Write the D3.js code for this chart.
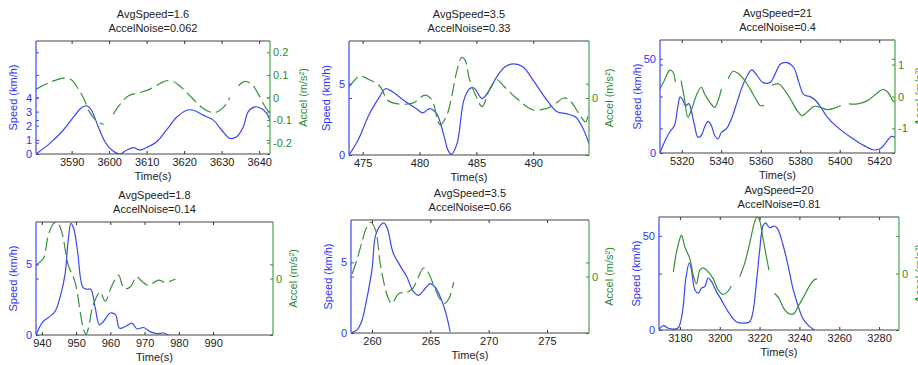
<!DOCTYPE html>
<html>
<head>
<meta charset="utf-8">
<script src="https://cdn.jsdelivr.net/npm/d3@7"></script>
<style>
  body { margin: 0; background: #fff; }
  svg { display: block; font-family: "Liberation Sans", Arial, sans-serif; }
</style>
</head>
<body>
<svg id="chart" width="918" height="365"></svg>
<script>
// titles
const avgSpeed = ["1.6", "3.5", "21", "1.8", "3.5", "20"];
const accelNoise = ["0.062", "0.33", "0.4", "0.14", "0.66", "0.81"];

// axes
const timeRange = [[3580.5, 3642.9], [473.8, 494.9], [5309, 5428], [938.3, 1007.5], [258.2, 278.6], [3169.5, 3290]];
const timeTicks = [
  [3590, 3600, 3610, 3620, 3630, 3640],
  [475, 480, 485, 490],
  [5320, 5340, 5360, 5380, 5400, 5420],
  [940, 950, 960, 970, 980, 990],
  [260, 265, 270, 275],
  [3180, 3200, 3220, 3240, 3260, 3280]
];
const speedMax = [8, 8, 60, 8, 8, 60];
const speedTicks = [[0, 1, 2, 3, 4], [0, 5], [0, 50], [0, 5], [0, 5], [0, 50]];
const accelMax = [0.25, 1, 1.77, 1, 1, 1];
const accelTicks = [[-0.2, -0.1, 0, 0.1, 0.2], [0], [-1, 0, 1], [0], [0], [0]];

// [time, speed km/h]
const speed1 = [[3580.5,0],[3584.2,0.75],[3587.8,1.7],[3590.9,2.75],[3592.7,3.3],[3594.2,3.4],[3595.3,3.1],[3597.1,1.93],[3598.9,0.87],[3600.7,0.28],[3602.9,0],[3604.7,0.28],[3606.5,0.45],[3608.2,0.28],[3610.5,0.52],[3612.7,0.87],[3615.3,1.7],[3618,2.6],[3620.7,3.1],[3622.5,3.1],[3625.1,2.75],[3627.8,2.4],[3630,1.7],[3632.2,1.1],[3634,1.22],[3635.8,1.93],[3637.1,3.0],[3638.9,3.34],[3640.7,3.2],[3642,2.87],[3642.9,2.4]];
const speed2 = [[473.8,0],[474.6,1.05],[475.6,2.9],[476.5,4.1],[477.0,4.65],[477.5,4.5],[478.6,3.85],[479.7,3.26],[480.3,2.96],[480.9,3.26],[481.5,2.9],[482.1,1.5],[482.5,0.35],[482.8,0.05],[483.3,0.8],[483.9,3.85],[484.4,4.65],[484.8,4.7],[485.5,3.96],[486.1,4.5],[486.8,5.5],[487.5,6.17],[488.3,6.4],[489.1,6.17],[490,5.24],[491.2,3.85],[492.1,3.03],[492.9,2.9],[493.7,2.68],[494.3,1.98],[494.9,0.8]];
const speed3 = [[5309,0],[5311.2,5.7],[5313.8,11],[5316.3,14.6],[5318,24.5],[5319.2,29.8],[5320.6,28],[5321.9,25],[5323.6,26.2],[5324.8,22.7],[5326.5,14.6],[5328.2,8.4],[5329.9,9.3],[5331.6,13.75],[5333.3,16.8],[5335,14.6],[5336.7,9.3],[5338.4,7.5],[5340.1,11],[5342.7,12.9],[5345.2,18.2],[5347.8,26.2],[5350.3,34.3],[5352.9,40.5],[5355.4,44.1],[5358,41.4],[5361,37.5],[5364.8,37.5],[5367.3,42],[5369.9,47.1],[5373.3,48],[5376.7,45.4],[5379.2,37.9],[5381.8,31],[5385.2,29.8],[5387.7,28],[5390.3,24.5],[5393.7,19.1],[5398.8,13.75],[5405.6,8.4],[5412.4,3.9],[5417.5,1.6],[5420.9,2.5],[5423.5,5.7],[5426,8.75],[5428,8.4]];
const speed4 = [[938.3,0],[940.4,0.96],[942.4,1.32],[943.9,1.68],[945.3,2.64],[946.8,4.33],[947.7,6.7],[948.5,7.9],[949.4,7.45],[950.4,6.0],[952,3.37],[953.2,3.24],[954.3,3.24],[955.6,1.92],[956.8,0.72],[958,0.96],[960,1.56],[961.5,1.44],[962.7,0.48],[964.4,0.6],[966.3,0.84],[967.8,0.43],[969.7,0.53],[971.6,0.24],[973.6,0.1],[975.5,0.14],[977,0]];
const speed5 = [[258.3,0.05],[258.7,0.2],[259.1,0.8],[259.5,2.2],[260,4.5],[260.3,6.9],[260.7,7.6],[261,7.8],[261.3,7.45],[261.8,5.7],[262.4,4.77],[263,3.95],[263.5,3.0],[264,2.66],[264.4,3.0],[265,3.5],[265.4,3.25],[265.8,2.66],[266.3,1.5],[266.7,0.1]];
const speed6 = [[3169.7,0.5],[3171.7,2.3],[3174.2,0.9],[3176.7,0.5],[3179.2,1.2],[3181.3,9.8],[3183,27.6],[3184.7,35.6],[3185.8,32],[3187.5,21.4],[3189.2,19.6],[3190.8,22.2],[3192.5,23.1],[3194.2,27.6],[3195.8,25.8],[3198.3,20.5],[3200.8,16],[3204.2,9.8],[3208.3,4.4],[3211.7,3.6],[3215,4.4],[3216.7,9.8],[3218.3,24],[3220,41.8],[3221.7,55.2],[3223,56.9],[3225,54.3],[3227.5,55.2],[3229.2,53.4],[3231.7,45.4],[3234.2,34.7],[3236.7,22.2],[3239.2,13.3],[3241.7,6.2],[3244.2,2.7],[3247.5,0]];

// [time, accel], null = gap
const accel1 = [[3580.5,0.037],[3584.2,0.067],[3587.8,0.086],[3590,0.077],[3591.8,0.037],[3593.1,0],[3594.9,-0.067],[3596.7,-0.104],[3598.5,-0.119],[3599.8,null],[3601.1,-0.074],[3602.9,-0.03],[3605.1,0.007],[3608.2,0.022],[3610.9,0.037],[3613.6,0.062],[3615.3,0.074],[3617.1,0.071],[3619.3,0.044],[3622,0],[3624.7,-0.044],[3626.9,-0.064],[3628.7,-0.064],[3630.5,-0.044],[3632.2,0],[3633.3,null],[3634.5,0.052],[3636.2,0.071],[3638,0.059],[3639.8,0.015],[3641.6,-0.041],[3642.7,-0.067]];
const accel2 = [[473.8,0.19],[474.6,0.37],[474.9,0.38],[475.5,0.33],[476.5,0.21],[477.2,-0.04],[478.0,-0.1],[479.4,-0.09],[480.5,0.05],[481.1,-0.04],[481.8,-0.47],[482.4,-0.3],[482.8,0],[483.3,0.49],[483.7,0.71],[484,0.67],[484.4,0.32],[485.0,0.02],[485.5,-0.15],[486.2,0.17],[486.8,0.32],[487.4,0.21],[488.5,0],[490,-0.21],[491.2,-0.18],[491.8,-0.12],[492.7,0],[493.2,-0.04],[494,-0.27],[494.6,-0.42],[494.9,-0.21]];
const accel3 = [[5309,0.24],[5311.2,0.5],[5313.8,0.82],[5315.5,0.77],[5316.8,0.45],[5318,null],[5319.7,0.5],[5321.4,-0.07],[5323.1,-0.65],[5324.8,-0.44],[5327.4,0.03],[5329.9,0.29],[5331.6,0.08],[5334.2,-0.18],[5336.7,-0.34],[5338.4,-0.13],[5340.1,0.24],[5342,null],[5343.5,0.56],[5346.1,0.79],[5348.6,0.72],[5351.2,0.56],[5354.6,0.24],[5358,-0.13],[5359.7,-0.28],[5361.7,-0.28],[5363.5,null],[5365.6,0.35],[5369,0.4],[5371.6,0.24],[5375,-0.07],[5378.4,-0.44],[5381,-0.6],[5383.5,-0.49],[5386.9,-0.31],[5390.3,-0.34],[5393.7,-0.41],[5397.1,-0.37],[5400.5,-0.28],[5402.5,null],[5404.7,-0.23],[5409,-0.23],[5414.1,-0.13],[5418.4,0.08],[5421.8,0.22],[5424.3,0.14],[5426.9,-0.13],[5428,-0.18]];
const accel4 = [[938.3,0.24],[940.4,0.35],[941.9,0.77],[943.4,0.97],[944.4,1.0],[945.8,0.83],[947.7,0.24],[949.7,-0.06],[951.2,-0.59],[952.1,-0.88],[952.9,-0.99],[953.6,-0.88],[955,-0.47],[957,-0.24],[958.5,-0.4],[960.5,-0.12],[962.4,0.06],[964,-0.18],[965.8,-0.15],[967.7,0.03],[969.2,-0.05],[971.1,-0.12],[974.1,-0.03],[976.1,-0.07],[979,-0.01]];
const accel5 = [[258.3,0.05],[258.7,0.29],[259.1,0.58],[259.5,0.85],[259.9,0.96],[260.3,0.82],[260.7,0.23],[261,-0.09],[261.4,-0.39],[261.7,-0.48],[262.3,-0.3],[263,-0.28],[263.5,-0.21],[264,0],[264.4,0.15],[264.7,0.11],[265.4,-0.21],[265.8,-0.39],[266.2,-0.48],[266.6,-0.39],[267,-0.1]];
const accel6 = [[3176.7,0.03],[3178.3,0.38],[3180,0.62],[3180.8,0.68],[3182.5,0.47],[3185,0.26],[3186.7,-0.03],[3188.3,-0.18],[3190,0.06],[3191.7,0.1],[3194.2,0.03],[3196.7,-0.09],[3199.2,-0.29],[3201.7,-0.37],[3204.2,-0.31],[3205.8,-0.22],[3208,null],[3210,-0.06],[3212.5,0.18],[3215,0.53],[3217.5,0.91],[3218.7,1.0],[3220,0.94],[3221.7,0.62],[3223.3,0.32],[3224.7,0.06],[3226,null],[3227.5,-0.35],[3229.7,-0.44],[3232.2,-0.62],[3234.7,-0.71],[3237.2,-0.71],[3239.7,-0.56],[3242.2,-0.41],[3244.7,-0.24],[3247.2,-0.12],[3248.8,-0.09]];

const speedSeries = [speed1, speed2, speed3, speed4, speed5, speed6];
const accelSeries = [accel1, accel2, accel3, accel4, accel5, accel6];

// layout of each plot box
const boxes = [
  { x0: 36, x1: 270, y0: 41, y1: 154 },
  { x0: 349, x1: 589, y0: 41, y1: 155 },
  { x0: 660, x1: 895, y0: 40, y1: 153 },
  { x0: 36, x1: 273, y0: 222, y1: 335 },
  { x0: 351, x1: 589, y0: 220, y1: 333 },
  { x0: 659, x1: 899, y0: 217, y1: 330 }
];
const dashed = [true, true, false, true, true, false];

const blue = "#3a48ee", blueText = "#2f2ff5";
const green = "#3a8f3a", greenText = "#2e8a2e";
const dark = "#333";

const svg = d3.select("#chart");

speedSeries.forEach((sp, i) => {
  const b = boxes[i];
  const x = d3.scaleLinear().domain(timeRange[i]).range([b.x0, b.x1]);
  const ys = d3.scaleLinear().domain([0, speedMax[i]]).range([b.y1, b.y0]);
  const ya = d3.scaleLinear().domain([-accelMax[i], accelMax[i]]).range([b.y1, b.y0]);

  svg.append("clipPath").attr("id", "clip" + i)
    .append("rect")
    .attr("x", b.x0).attr("y", b.y0)
    .attr("width", b.x1 - b.x0).attr("height", b.y1 - b.y0);

  const plot = svg.append("g").attr("clip-path", "url(#clip" + i + ")");

  const lineS = d3.line()
    .defined(d => d[1] != null)
    .x(d => x(d[0])).y(d => ys(d[1]))
    .curve(d3.curveCatmullRom);
  const lineA = d3.line()
    .defined(d => d[1] != null)
    .x(d => x(d[0])).y(d => ya(d[1]))
    .curve(d3.curveCatmullRom);

  plot.append("path").datum(sp)
    .attr("d", lineS)
    .attr("fill", "none").attr("stroke", blue).attr("stroke-width", 1.2);

  plot.append("path").datum(accelSeries[i])
    .attr("d", lineA)
    .attr("fill", "none").attr("stroke", green).attr("stroke-width", 1.2)
    .attr("stroke-dasharray", dashed[i] ? "13,5" : null);

  // x axis bottom + mirrored top ticks
  const xb = svg.append("g").attr("transform", `translate(0,${b.y1})`)
    .call(d3.axisBottom(x).tickValues(timeTicks[i]).tickFormat(d3.format("d"))
      .tickSizeInner(-3).tickSizeOuter(0).tickPadding(4));
  xb.select(".domain").remove();
  xb.selectAll("line").attr("stroke", dark);
  xb.selectAll("text").attr("fill", "#222").attr("font-size", 11)
    .attr("font-family", "Liberation Sans, Arial, sans-serif");

  const xt = svg.append("g").attr("transform", `translate(0,${b.y0})`)
    .call(d3.axisTop(x).tickValues(timeTicks[i]).tickFormat("").tickSizeInner(-3).tickSizeOuter(0));
  xt.select(".domain").remove();
  xt.selectAll("line").attr("stroke", dark);

  // speed axis (left) and mirrored ticks on the right
  const yl = svg.append("g").attr("transform", `translate(${b.x0},0)`)
    .call(d3.axisLeft(ys).tickValues(speedTicks[i]).tickFormat(d3.format("d"))
      .tickSizeInner(-3).tickSizeOuter(0).tickPadding(4));
  yl.select(".domain").remove();
  yl.selectAll("line").attr("stroke", blue);
  yl.selectAll("text").attr("fill", blueText).attr("font-size", 11)
    .attr("font-family", "Liberation Sans, Arial, sans-serif");

  const ylm = svg.append("g").attr("transform", `translate(${b.x1},0)`)
    .call(d3.axisRight(ys).tickValues(speedTicks[i]).tickFormat("").tickSizeInner(-3).tickSizeOuter(0));
  ylm.select(".domain").remove();
  ylm.selectAll("line").attr("stroke", green);

  // accel axis (right) and mirrored ticks on the left
  const yr = svg.append("g").attr("transform", `translate(${b.x1},0)`)
    .call(d3.axisRight(ya).tickValues(accelTicks[i]).tickFormat(d => String(d))
      .tickSizeInner(-3).tickSizeOuter(0).tickPadding(3));
  yr.select(".domain").remove();
  yr.selectAll("line").attr("stroke", green);
  yr.selectAll("text").attr("fill", greenText).attr("font-size", 11)
    .attr("font-family", "Liberation Sans, Arial, sans-serif");

  const yrm = svg.append("g").attr("transform", `translate(${b.x0},0)`)
    .call(d3.axisLeft(ya).tickValues(accelTicks[i]).tickFormat("").tickSizeInner(-3).tickSizeOuter(0));
  yrm.select(".domain").remove();
  yrm.selectAll("line").attr("stroke", blue);

  // box edges
  const edges = svg.append("g").attr("fill", "none").attr("stroke-width", 1.2);
  edges.append("line").attr("x1", b.x0).attr("x2", b.x1).attr("y1", b.y0).attr("y2", b.y0).attr("stroke", "#444");
  edges.append("line").attr("x1", b.x0).attr("x2", b.x1).attr("y1", b.y1).attr("y2", b.y1).attr("stroke", "#444");
  edges.append("line").attr("x1", b.x0).attr("x2", b.x0).attr("y1", b.y0).attr("y2", b.y1).attr("stroke", blue);
  edges.append("line").attr("x1", b.x1).attr("x2", b.x1).attr("y1", b.y0).attr("y2", b.y1).attr("stroke", "#4aa34a");

  // titles
  const cx = (b.x0 + b.x1) / 2;
  const cy = (b.y0 + b.y1) / 2;
  const txt = svg.append("g").attr("font-size", 11).attr("text-anchor", "middle");
  txt.append("text").attr("x", cx).attr("y", b.y0 - 23).attr("fill", "#222").text("AvgSpeed=" + avgSpeed[i]);
  txt.append("text").attr("x", cx).attr("y", b.y0 - 9).attr("fill", "#222").text("AccelNoise=" + accelNoise[i]);
  txt.append("text").attr("x", cx).attr("y", b.y1 + 26).attr("fill", "#222").text("Time(s)");

  // y labels
  const rw = yr.node().getBBox().width;
  txt.append("text")
    .attr("transform", `translate(${b.x0 - 19},${cy}) rotate(-90)`)
    .attr("fill", blueText).text("Speed (km/h)");
  txt.append("text")
    .attr("transform", `translate(${b.x1 + rw + 12},${cy}) rotate(-90)`)
    .attr("fill", greenText).text("Accel (m/s²)");
});
</script>
</body>
</html>
